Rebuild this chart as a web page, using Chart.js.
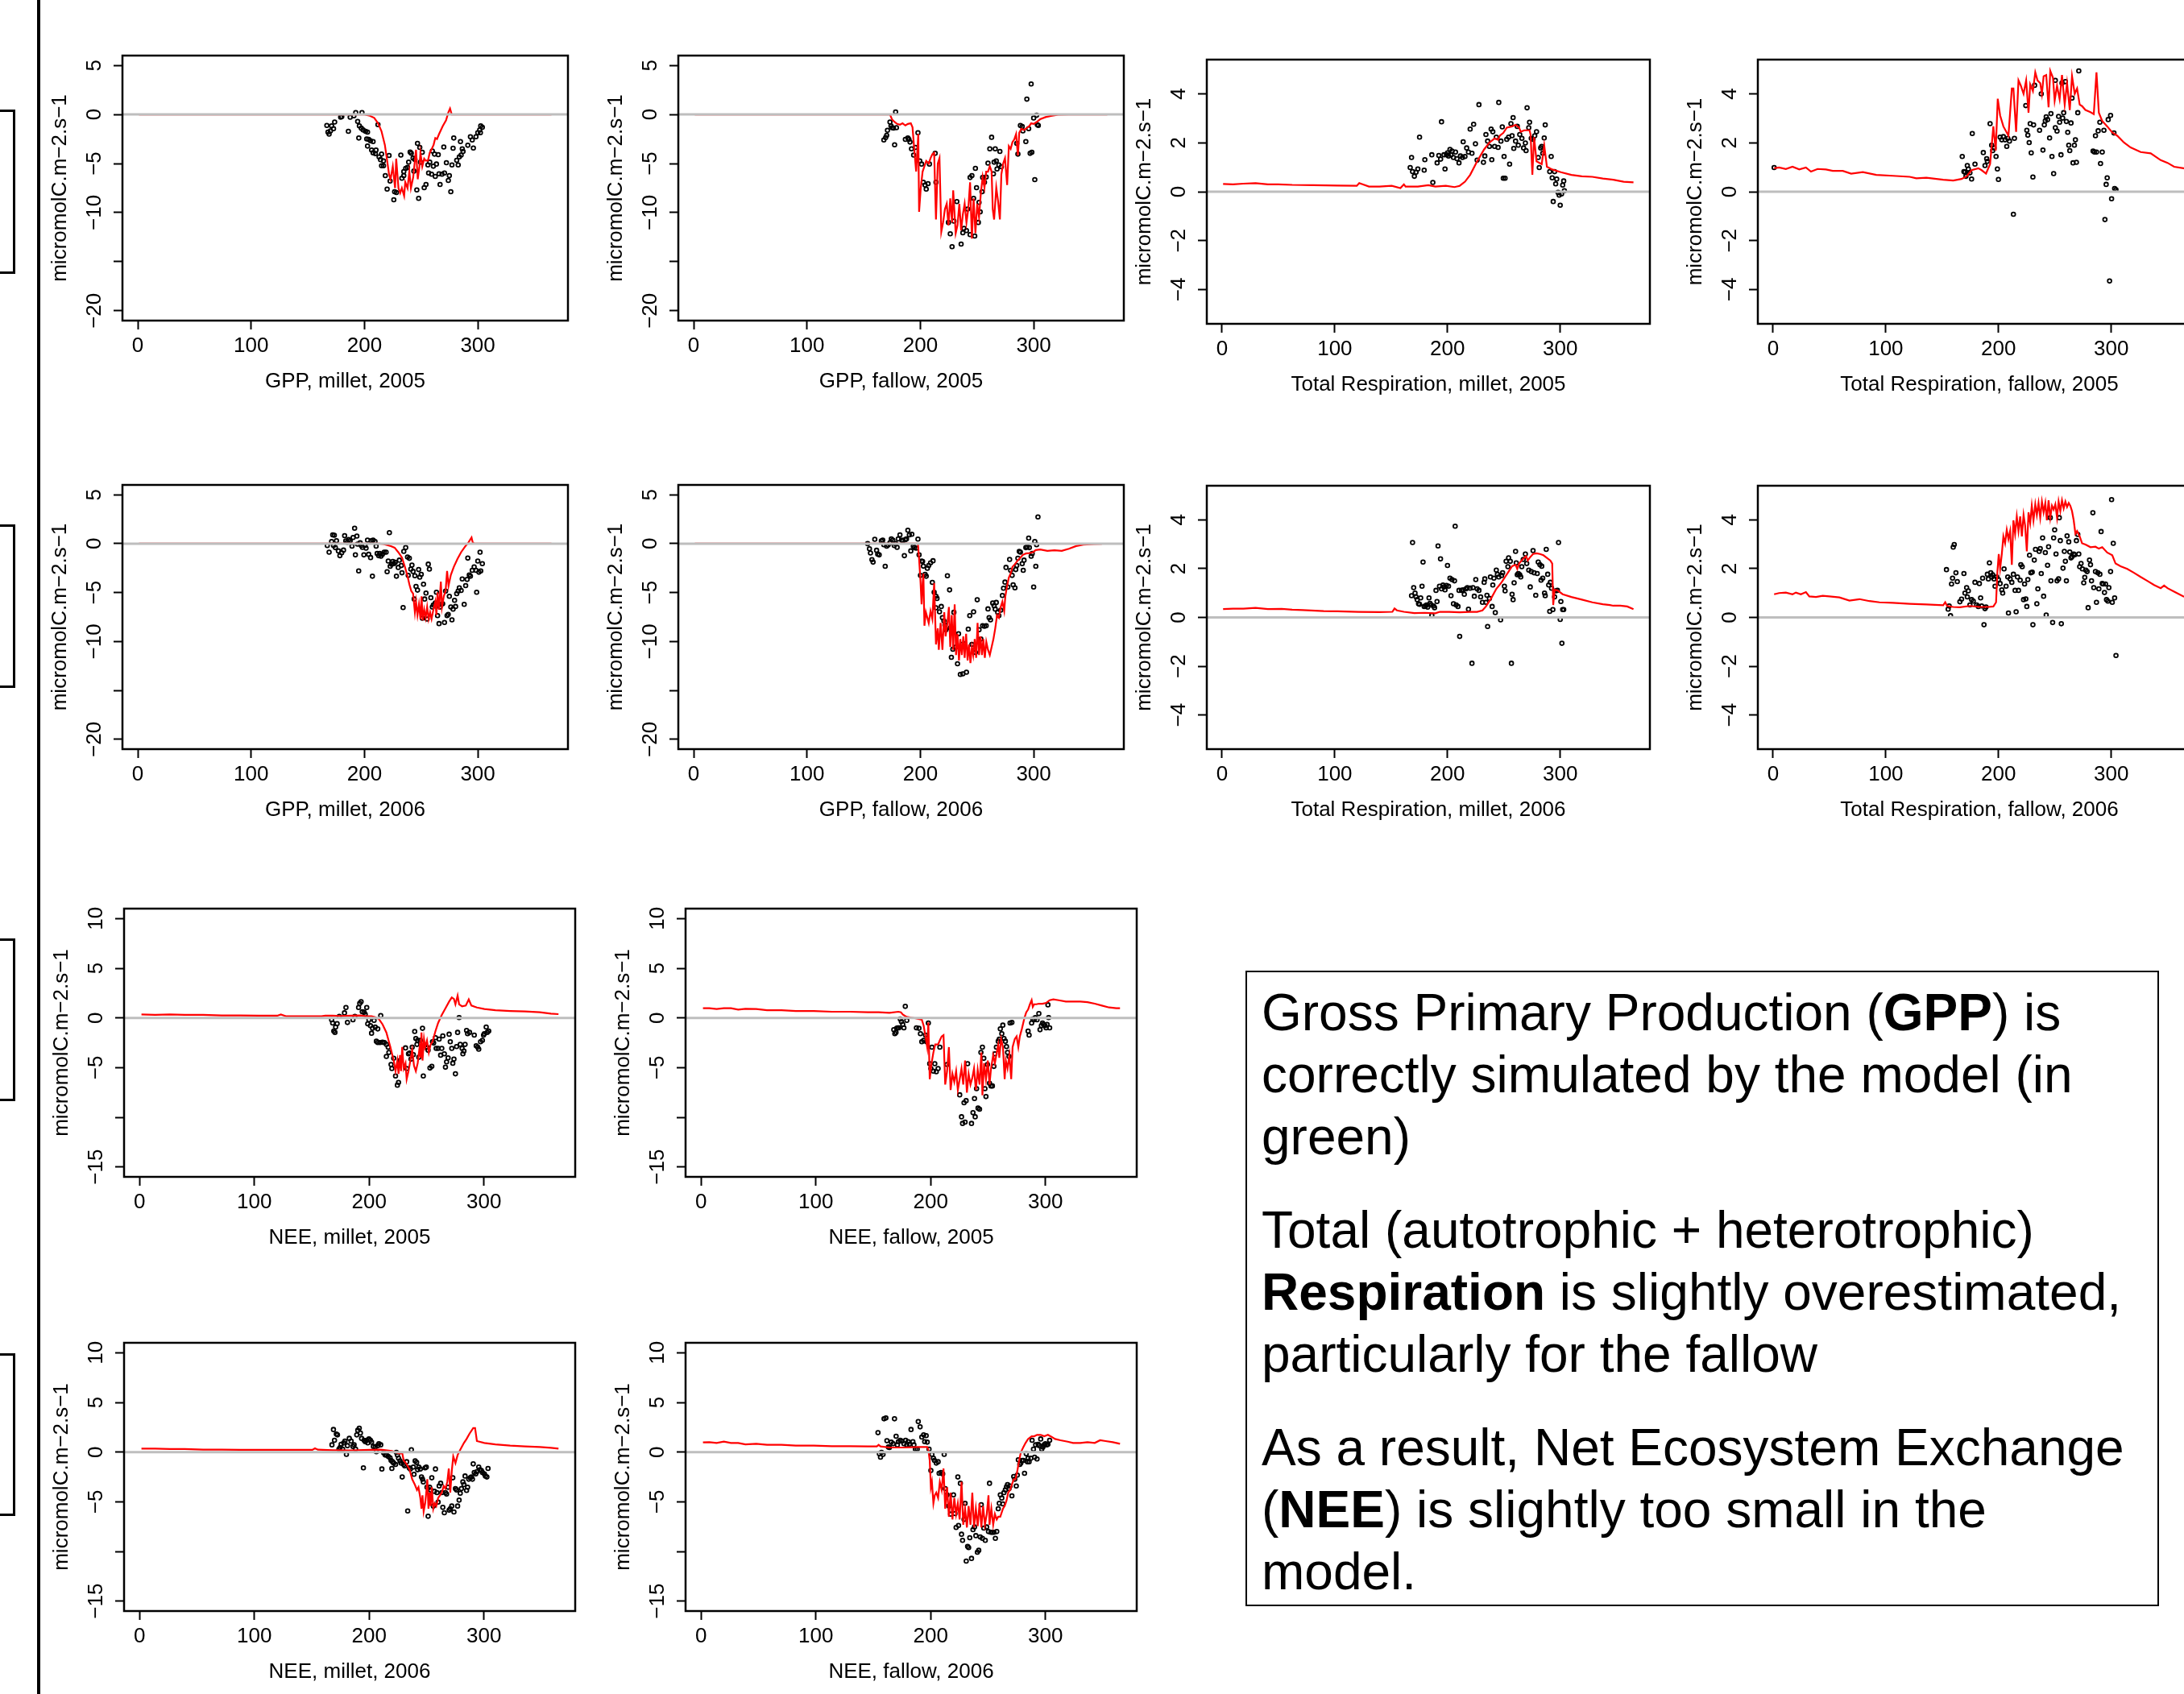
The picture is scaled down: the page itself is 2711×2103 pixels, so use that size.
<!DOCTYPE html>
<html>
<head>
<meta charset="utf-8">
<script src="https://cdn.jsdelivr.net/npm/chart.js@4.4.1/dist/chart.umd.min.js"></script>
<style>
  html, body { margin: 0; padding: 0; background: #fff; }
  body { position: relative; width: 2711px; height: 2103px; overflow: hidden; }
  .rule { position: absolute; left: 46px; top: 0; width: 4px; height: 2103px; background: #000; }
  .stub { position: absolute; left: -20px; width: 39px; box-sizing: border-box; border: 3px solid #000; }
  #note {
    position: absolute; left: 1546px; top: 1205px; width: 1134px; height: 789px;
    box-sizing: border-box; border: 2px solid #000; padding: 12px 0 0 18px;
    font-family: "Liberation Sans", Arial, Helvetica, sans-serif; font-size: 64px; line-height: 77px;
    color: #000; white-space: nowrap;
  }
  #note p { margin: 0 0 39px 0; }
  canvas { position: absolute; }
</style>
</head>
<body>
<div class="rule"></div>
<div class="stub" style="top:136px;height:204px"></div>
<div class="stub" style="top:651px;height:203px"></div>
<div class="stub" style="top:1165px;height:202px"></div>
<div class="stub" style="top:1680px;height:202px"></div>

<div id="note">
  <p>Gross Primary Production (<b>GPP</b>) is<br>correctly simulated by the model (in<br>green)</p>
  <p>Total (autotrophic + heterotrophic)<br><b>Respiration</b> is slightly overestimated,<br>particularly for the fallow</p>
  <p>As a result, Net Ecosystem Exchange<br>(<b>NEE</b>) is slightly too small in the<br>model.</p>
</div>

<script>
// Model (red line) vs observations (open circles), day of year on x.

const dayTicks = [0, 100, 200, 300];
const gppTicks = [-20, -15, -10, -5, 0, 5];
const respTicks = [-4, -2, 0, 2, 4];
const neeTicks = [-15, -10, -5, 0, 5, 10];
const yUnit = 'micromolC.m\u22122.s\u22121';

// ---- GPP 2005
const gppMillet05Model = [[1,0],[200,0],[204,-0.1],[208.6,-0.35],[212,-0.9],[215,-1.7],[218,-3.1],[220,-4.7],[221.7,-6.1],[223,-6.6],[225,-5.3],[227,-7.5],[228,-4.5],[230,-7.5],[231.5,-8],[233,-7.5],[235,-8.3],[236,-6.9],[238,-7.5],[239.6,-5.8],[241,-7.5],[243,-6.4],[244.5,-4.7],[245.5,-3.6],[247,-6.6],[248.5,-5.3],[249.4,-3.9],[251,-5.3],[252.7,-4.5],[254,-4.7],[256,-4.7],[257.6,-3.9],[259,-3.6],[261,-3.1],[262.5,-2.4],[264,-2.5],[265.8,-2],[269,-1.2],[272,-0.6],[274,0.2],[275.5,0.6],[277,0],[365,0]];
const gppMillet05Obs = [[166.8,-1.12],[167.8,-1.8],[168.8,-2],[170,-1.67],[171,-1.17],[172.7,-1.45],[173.7,-0.77],[179,-0.27],[180,-0.22],[185.8,-1.72],[187.4,-0.27],[190.7,-0.14],[192.3,0.19],[194,-0.71],[195.5,-1.17],[195,-2.4],[197.8,0.19],[197.2,-1.4],[198.8,-1.58],[201,-1.72],[202.7,-1.8],[202,-2.49],[203.7,-2.54],[202.7,-3.22],[205.3,-2.68],[207.6,-2.76],[206.3,-3.63],[207.6,-3.9],[210.2,-3.63],[209.6,-3.99],[211.9,-1.04],[212.9,-4.32],[214.2,-4.6],[215.1,-4.04],[216.8,-4.73],[215.1,-5.22],[216.8,-5.22],[218.4,-6.23],[221.7,-4.18],[220,-7.6],[222.6,-6.78],[225.9,-8.69],[226.6,-7.87],[228.2,-7.95],[232.1,-4.13],[233,-6.5],[234.7,-5.82],[236.4,-5.49],[234.7,-6.23],[238,-5.4],[239,-4.86],[240.3,-3.83],[241.3,-3.96],[242.9,-4.45],[244.5,-4.59],[243.6,-5.77],[246.2,-7.68],[247.8,-8.55],[246.8,-2.95],[248.8,-3.36],[249.4,-4.86],[251,-3.85],[252.7,-7.46],[254.3,-7.13],[256,-5.14],[256.6,-5.96],[257.6,-4.86],[259.2,-6.09],[260.8,-5.27],[259.9,-3.72],[261.8,-4.04],[263.5,-5.05],[262.5,-6.31],[265.1,-4.1],[265.8,-6.04],[266.7,-7.13],[268.4,-6.09],[270,-3.31],[270.6,-5.96],[272.3,-4.92],[274,-6.72],[274.9,-6.23],[276.2,-7.87],[277.2,-5.14],[278.2,-3.44],[278.8,-2.4],[281.4,-4.67],[282.7,-5.14],[283.7,-4.32],[284.7,-2.76],[285.3,-4.13],[287,-3.77],[286.3,-3.5],[291.2,-3.14],[293.5,-2.27],[295.1,-2.6],[296.1,-3.42],[298.4,-2.27],[300,-1.86],[301.7,-1.58],[302.6,-1.17],[304,-1.31],[302.3,-1.86]];

const gppFallow05Model = [[1,0],[173.2,0],[175,-0.5],[177.3,-0.77],[179.5,-0.96],[182,-1.04],[184.3,-0.9],[186.8,-1.12],[189,-0.96],[191.6,-0.9],[193.1,-1.31],[194.7,-3.63],[196.3,-5.82],[198.2,-1.99],[198.9,-9.92],[200.4,-7.46],[202,-5.82],[203.6,-5.27],[205.2,-4.73],[207.4,-5],[209,-4.45],[210.6,-4.04],[212.2,-3.9],[213.8,-10.7],[215.4,-5],[216.9,-4.45],[218.5,-11.96],[220.1,-11],[221.7,-9.64],[223.3,-9.1],[224.8,-11.28],[226.4,-8.55],[228,-11],[229,-7.73],[231.2,-12.1],[232.8,-11.28],[234.4,-9.1],[236,-11.8],[237.5,-10.2],[239.1,-9.1],[240.7,-11],[242.3,-9.64],[243.9,-6.91],[245.5,-12.65],[247,-8.55],[248.6,-12.1],[250.2,-9.1],[251.8,-10.46],[253.4,-8],[255,-6.37],[256.6,-7.46],[258.1,-5.82],[259.7,-5.82],[261.3,-5.27],[262.9,-5.82],[263.9,-9.64],[265.1,-10.7],[267,-7.46],[268.6,-8.83],[270.2,-10.7],[271.5,-6.09],[273.1,-5],[274.7,-4.45],[276.6,-7.19],[278.1,-3.22],[279.7,-3.5],[281.3,-2.81],[282.9,-2.54],[284.5,-1.99],[286.1,-4.18],[287.3,-1.86],[289.2,-1.45],[291.5,-1.58],[293.7,-1.39],[296.2,-1.17],[297.8,-0.9],[300,-0.96],[302.6,-0.77],[305.7,-0.49],[310.5,-0.27],[315.3,-0.14],[321.6,-0.03],[331,0],[365,0]];
const gppFallow05Obs = [[167.8,-2.6],[169.4,-2.35],[170.3,-2.13],[171,-1.61],[173.2,-0.77],[174.1,-1.17],[175,-1.34],[176.3,-1.39],[177.3,-3.09],[178.2,0.25],[178.9,-1.34],[186.8,-2.54],[189,-2.4],[189.9,-2.54],[190.9,-2.81],[192.2,-3.5],[194.1,-4.13],[195.7,-3.36],[197.9,-1.86],[199.5,-4.73],[201.1,-5.05],[202.6,-6.91],[204.2,-7.19],[205.2,-7.6],[206.8,-7.05],[208,-5.05],[213.1,-3.96],[213.8,-6.91],[224.8,-11],[226.4,-12.16],[228,-13.47],[229.6,-10.87],[232.2,-8.88],[236,-13.2],[237.5,-12.05],[238.5,-11.6],[240.7,-11.83],[241.7,-9.64],[243.9,-12.24],[247,-8.55],[248,-12.38],[243.9,-6.42],[245.5,-6.23],[248.6,-5.49],[249.6,-7.46],[251.2,-11],[251.8,-8.96],[252.8,-9.92],[254.4,-7.87],[255,-6.42],[256.6,-6.91],[258.1,-6.37],[259.7,-4.95],[261.3,-3.5],[262.9,-2.32],[264.5,-6.04],[265.1,-4.86],[266.1,-3.5],[267,-4.73],[267.7,-5.55],[269.3,-5.14],[270.2,-3.77],[271.5,-5.33],[285.1,-2.95],[286.1,-4.04],[288.3,-1.12],[289.9,-1.23],[290.5,-1.67],[293.1,-2.76],[294,1.56],[295.6,-1.45],[296.9,-3.96],[298.4,-3.85],[297.8,3.11],[300,-0.36],[301,-6.64],[302.6,-0.08],[303.2,-1.04],[304.1,-1.12]];

// ---- Respiration 2005
const respMillet05Model = [[0.9,0.32],[9.6,0.3],[18.9,0.33],[29.7,0.35],[40.6,0.3],[49.8,0.3],[62.2,0.28],[80.8,0.27],[102.5,0.25],[119.5,0.24],[121.7,0.35],[124.1,0.31],[130.3,0.21],[139.6,0.21],[150.5,0.24],[158.2,0.15],[161.3,0.3],[162.8,0.21],[173.7,0.21],[183,0.27],[189.2,0.21],[198.5,0.24],[206.2,0.19],[210.8,0.24],[215.5,0.41],[220.1,0.69],[226.3,1.24],[232.5,1.73],[237.2,2.01],[241.8,2.18],[244.9,2.12],[246.4,2.29],[249.5,2.4],[252.6,2.62],[257.3,2.67],[260.4,2.73],[263.5,2.62],[265,2.45],[268.1,2.51],[272.8,2.51],[273.7,2.34],[275.3,0.69],[276.8,2.23],[279,1.24],[283.6,1.13],[285.8,1.9],[288.2,1.02],[292.9,0.91],[300.6,0.8],[309.9,0.69],[319.2,0.63],[328.5,0.61],[337.8,0.54],[347.1,0.49],[356.3,0.41],[365,0.38]];
const respMillet05Obs = [[166.9,0.99],[168.1,1.4],[169,0.82],[170.6,0.63],[172.1,0.8],[173.7,0.93],[175.2,2.23],[179.3,0.88],[179.9,1.31],[186.1,1.51],[187,0.38],[190.8,1.18],[192.3,1.48],[193.9,1.33],[194.7,2.86],[196.9,1.51],[197.8,0.93],[199.1,1.51],[200,1.59],[200.9,1.46],[202.2,1.73],[203.1,1.51],[204,1.66],[205.3,1.4],[207.1,1.62],[208.4,1.35],[210.2,1.18],[211.5,1.46],[213.3,1.4],[213.9,2.04],[215.5,1.44],[217,1.79],[218.6,1.62],[220.1,2.56],[221.7,1.57],[223.2,2.76],[224.8,1.96],[226.3,1.29],[227.9,3.56],[231.9,1.2],[233.1,1.46],[234.1,2.34],[235.6,2.07],[237.2,1.85],[238.7,2.56],[239.3,1.31],[240.2,2.45],[241.8,1.85],[243.3,2.23],[244.9,1.81],[245.5,3.65],[247.4,2.07],[248.6,2.65],[249.5,0.55],[251.1,0.55],[250.2,1.44],[252.6,2.14],[254.2,2.23],[255.1,1.13],[256.3,2.78],[257.3,2.29],[258.2,3.03],[258.8,1.77],[260.4,2.07],[261.9,2.67],[262.8,1.9],[264.1,2.34],[266,2.18],[267.5,1.79],[269.1,1.99],[269.7,1.68],[270.6,3.43],[272.1,2.62],[272.8,2.84],[274.3,2.18],[275.9,2.14],[277.4,2.29],[279,2.45],[280.5,1.4],[281.4,0.99],[282.7,1.79],[283.6,1.85],[284.5,1.57],[285.8,2.2],[286.7,2.73],[290.7,0.82],[292,1.44],[292.9,0.57],[293.8,-0.4],[295,0.82],[296,0.32],[296.9,0.52],[298.1,-0.03],[299.1,-0.14],[300,-0.55],[301.2,-0.09],[302.2,0.27],[303.1,0.44],[303.7,0.04]];

const respFallow05Model = [[0.9,0.96],[5.3,0.99],[11.3,0.93],[17.2,1.02],[23.2,0.91],[29.1,0.99],[33.6,0.82],[39.5,0.93],[46.9,0.91],[52.9,0.85],[61.8,0.85],[69.2,0.74],[79.6,0.8],[91.5,0.69],[106.3,0.65],[121.2,0.61],[127.1,0.55],[136,0.57],[150.9,0.49],[159.8,0.46],[167.2,0.52],[171.7,0.63],[176.1,0.88],[182.1,0.96],[185,0.88],[188.9,0.74],[192.5,1.13],[195.4,2.67],[197.5,1.68],[199.3,3.8],[201.4,3.12],[204.3,2.67],[208.8,2.29],[211.8,4.22],[213.2,4.22],[215.6,2.45],[217.7,4.55],[219.8,4.33],[222.2,4],[224.5,4.55],[226.6,3.23],[228.1,4.39],[230.5,4.11],[232.6,4.88],[234.6,4.55],[237,4.44],[238.5,4],[240,4.72],[242.3,4.77],[244.4,3.45],[245.9,4.94],[248.3,4.66],[249.8,3.72],[251.9,4.33],[254.2,3.78],[256.3,4.77],[258.7,3.56],[260.8,4.44],[263.2,3.34],[265.2,4.72],[267.6,4],[269.7,4.22],[272,3.56],[274.1,3.5],[277.1,3.34],[281.6,3.25],[284.5,3.17],[286.9,4.88],[289,3.23],[291.9,2.9],[296.4,2.67],[300.9,2.42],[305.3,2.29],[311.3,2.01],[317.2,1.81],[326.1,1.62],[335,1.57],[343.9,1.29],[349.9,1.18],[355.8,1.02],[364.1,0.96],[365,0.95]];
const respFallow05Obs = [[0.9,0.99],[167.8,1.44],[169.3,0.82],[170.2,0.8],[171.1,0.63],[172.3,1.07],[173.2,0.93],[174.6,0.77],[176.1,0.52],[176.7,2.38],[179.1,1.13],[186.5,1.6],[188,1.07],[189.5,1.35],[190.1,1.24],[192.5,2.78],[193.9,1.9],[194.8,1.68],[196,1.79],[197.8,1.44],[199,0.93],[199.9,0.5],[201.4,2.23],[202.9,2.12],[204.3,2.25],[205.8,2.12],[207.3,1.85],[208.2,2.18],[209.7,2.07],[213.2,-0.92],[214.1,2.18],[224.2,3.52],[225.1,2.51],[226,2.31],[227.2,2.01],[228.1,2.78],[229,1.59],[230.5,0.6],[231.1,2.73],[232,4.35],[236.4,2.51],[237.9,4],[239.4,1.7],[240.6,2.73],[241.5,2.9],[242.3,3.06],[243.5,2.95],[245.3,2.2],[246.5,3.19],[247.4,1.44],[248.9,0.74],[250.4,4.55],[250.4,2.62],[251.9,2.48],[253.3,3.08],[254.2,2.84],[255.4,1.51],[256.9,3.01],[257.8,3.23],[256.3,4.44],[259.3,4.5],[260.2,2.87],[261.4,2.43],[262.3,1.9],[263.2,1.68],[264.3,2.81],[265.2,3.83],[266.1,1.18],[267.3,1.9],[268.2,2.12],[269.1,1.2],[270.3,3.23],[271.2,4.94],[283.9,1.66],[285.1,1.62],[286.9,1.62],[286,2.29],[288.4,2.49],[289.9,2.84],[290.5,1.15],[292,1.62],[293.5,2.51],[294.4,-1.14],[295.5,0.3],[296.4,0.57],[297.3,2.95],[298.5,-3.65],[299.4,3.12],[300.3,-0.29],[302.4,2.4],[303,0.13],[304.2,0.08]];

// ---- GPP 2006
const gppMillet06Model = [[1,0],[213.5,0],[216.8,-0.05],[220,-0.14],[223.3,-0.25],[226.6,-0.41],[229.8,-0.87],[233.1,-1.42],[235.7,-2.38],[238,-3.33],[239.6,-4.15],[241.3,-4.84],[242.9,-5.11],[244.5,-7.02],[245.5,-5.93],[246.8,-7.3],[248.1,-6.2],[249.4,-7.7],[250.4,-5.38],[251.4,-7.84],[252.7,-6.75],[254,-7.57],[255.3,-6.48],[256.6,-7.7],[257.9,-7.02],[259.2,-7.7],[260.8,-6.75],[262.5,-5.93],[263.5,-7.3],[264.5,-4.97],[265.8,-6.75],[267.4,-3.88],[268.4,-6.48],[270,-5.38],[271.6,-4.84],[272.9,-2.79],[274.2,-4.29],[276.2,-3.2],[278.8,-2.38],[282.1,-1.56],[285.3,-0.87],[288.6,-0.33],[291.9,0.14],[294.5,0.63],[295.5,0.14],[296.8,0],[365,0]];
const gppMillet06Obs = [[167.2,-0.19],[168.8,-0.87],[171,0.22],[172,0.9],[173.4,0.85],[172.7,-0.19],[174.3,-0.41],[175.3,0.3],[177,-0.74],[178.3,-1.23],[179.9,-0.93],[181.5,-0.66],[182.5,0.82],[183.5,0.27],[184.8,0.14],[186.1,0.41],[187.4,0.3],[189,-0.25],[190,0.63],[191.3,1.58],[192,-1.15],[193.3,0.77],[193.9,-0.05],[194.9,-2.79],[196.2,0.08],[197.2,-0.19],[198.2,-0.38],[199.5,-1.15],[200.5,-0.19],[201.4,-0.46],[202.7,0.36],[203.7,-1.09],[205.4,-1.42],[206,0.3],[207,-3.33],[207.6,0.36],[209.3,0.22],[210.3,-0.25],[211.2,-1.01],[212.5,-1.23],[213.5,-1.01],[214.5,-1.28],[215.8,-1.09],[217.4,-0.87],[219.1,-0.87],[220,-2.87],[221,-1.78],[222,1.12],[222.7,-2.32],[224,-2.1],[225,-1.83],[225.9,-2.05],[227.2,-1.91],[228.2,-3.33],[229.8,-2.43],[230.8,-1.69],[232.5,-2.24],[233.1,-2.98],[234.1,-6.53],[234.7,-0.79],[236.4,-0.41],[238,-1.37],[238.6,-3.25],[239.6,-1.5],[240.9,-2.6],[241.9,-2.19],[242.9,-2.84],[243.9,-5.66],[244.5,-3.28],[245.5,-4.37],[246.8,-4.75],[247.8,-2.65],[248.8,-3.42],[250.1,-3.14],[251.1,-7.62],[252.1,-4.15],[253.1,-5.66],[254.3,-5.05],[255.3,-7.7],[256.3,-2.1],[257.3,-2.6],[258.6,-5.52],[259.9,-6.48],[260.8,-6.26],[262.5,-6.07],[263.5,-4.97],[264.5,-7.35],[265.8,-8.17],[266.7,-6.48],[267.7,-6.2],[269,-6.15],[270.6,-8.06],[271.6,-4.84],[272.9,-7.35],[273.9,-7.24],[274.9,-5.38],[276.2,-6.48],[277.2,-7.79],[278.2,-6.69],[279.5,-5.79],[280.4,-6.42],[281.4,-5.11],[282.7,-4.84],[283.7,-4.51],[285.3,-4.78],[286.3,-3.61],[288,-6.2],[289.3,-4.29],[290.6,-3.66],[291.2,-1.48],[292.5,-3.2],[293.5,-3.33],[295.1,-2.73],[296.8,-2.38],[298.4,-2.73],[299,-4.97],[300,-1.78],[301,-2.92],[302,-0.87],[302.6,-2.79],[304,-2.05]];

const gppFallow06Model = [[1,0],[197,0],[197.9,-0.05],[198.9,-1.56],[200.1,-3.74],[201.1,-6.2],[202,-4.02],[202.7,-3.06],[203.6,-8.39],[204.9,-7.02],[206.2,-7.57],[207.4,-8.11],[209,-6.89],[210.6,-7.7],[212.2,-4.02],[213.8,-10.3],[215.4,-8.66],[216.3,-10.85],[217.9,-8.11],[219.5,-10.85],[221.1,-7.02],[222.3,-9.48],[223.9,-8.11],[225.2,-6.48],[226.4,-10.57],[227.7,-7.3],[229,-10.85],[230.3,-6.2],[231.5,-11.39],[232.8,-9.21],[234.1,-11.94],[235.3,-9.75],[236.6,-11.39],[237.9,-9.48],[239.1,-11.67],[240.4,-9.21],[241.7,-11.94],[242.9,-10.3],[244.2,-12.21],[245.5,-10.57],[246.7,-11.39],[248,-9.75],[249.3,-11.67],[250.5,-8.11],[251.8,-11.39],[253.1,-9.48],[254.4,-11.39],[255.6,-9.75],[256.9,-11.67],[258.2,-10.03],[259.7,-10.85],[261.3,-11.39],[262.9,-10.57],[264.5,-9.75],[266.1,-8.66],[267.7,-7.3],[269.3,-7.57],[270.9,-6.48],[272.4,-5.93],[274,-6.89],[275,-5.38],[276.6,-4.29],[278.1,-3.47],[279.7,-3.06],[281.3,-2.38],[283.5,-2.1],[286.1,-1.69],[288.3,-1.42],[290.5,-1.15],[293.1,-1.01],[296.2,-0.96],[299.4,-0.87],[301.9,-0.66],[305.7,-0.6],[312.1,-0.74],[318.4,-0.68],[324.8,-0.74],[331.1,-0.52],[337.5,-0.25],[343.8,-0.11],[353.3,-0.05],[360.3,-0.03]];
const gppFallow06Obs = [[153.5,0],[155.1,-0.52],[156,-0.96],[157.3,-1.64],[158.3,-1.89],[159.8,0.44],[161.4,-0.68],[162.4,-1.07],[163.7,-1.15],[165.6,0.27],[166.8,0.36],[167.8,-0.11],[169,-2.32],[170.3,-0.25],[171.6,-0.14],[173.2,0.08],[174.4,0.49],[175.7,0.36],[177,-0.19],[178.2,0],[179.5,-0.38],[180.5,0.49],[182,0.9],[183.6,0.36],[184.6,0.27],[185.9,-1.23],[186.8,0.41],[187.8,0.49],[189,1.37],[190.3,0.9],[191.6,-0.74],[192.5,0.96],[193.8,-0.25],[194.7,-0.41],[196.3,-0.46],[197.9,0.46],[198.9,-1.15],[200.1,-3.25],[201.1,-1.78],[202,-1.83],[202.7,-2.3],[204.2,-3.14],[205.2,-3.33],[206.2,-2.51],[207.4,-2.24],[209,-1.97],[210.6,-3.96],[211.2,-1.75],[212.2,-4.97],[213.8,-5.38],[214.7,-5.6],[213.8,-6.56],[216.9,-6.97],[218.5,-6.42],[219.5,-7.57],[220.8,-7.9],[221.7,-8.33],[222.6,-8.8],[223.9,-3.28],[225.8,-4.73],[226.4,-8.61],[227.4,-11.61],[228.7,-10.79],[229.6,-7.02],[231.2,-10.57],[232.8,-12.27],[233.7,-9.21],[235.3,-13.36],[236.6,-10.3],[237.5,-13.3],[239.1,-10.25],[240.7,-13.14],[242.3,-8.74],[243.6,-7.35],[245.5,-10.3],[247,-6.97],[248.6,-11.12],[250.2,-5.74],[251.8,-8.8],[253.4,-9.75],[255,-8.39],[256.6,-8.44],[258.1,-8.39],[259.7,-6.67],[260.7,-7.57],[261.9,-7.79],[263.9,-6.07],[265.1,-6.34],[266.1,-6.69],[267,-6.01],[268.3,-7.02],[269.3,-7.35],[270.9,-6.8],[272.4,-5.3],[273.4,-4.56],[274.7,-3.93],[275.6,-2.43],[277.2,-4.43],[278.8,-1.61],[279.7,-2.73],[281,-3.25],[281.9,-4.21],[283.5,-4.51],[284.2,-2.65],[285.1,-2.24],[286.1,-1.5],[287.3,-0.79],[288.3,-0.87],[289.9,-2.05],[290.8,-2.73],[291.5,-1.69],[293.1,-0.41],[294.3,-0.33],[295.6,0.57],[296.2,-0.41],[297.8,-1.28],[298.7,-1.01],[300,-4.43],[301,0.22],[301.9,-2.32],[302.6,-0.11],[303.8,2.73]];

// ---- Respiration 2006
const respMillet06Model = [[0.9,0.34],[9.6,0.36],[18.9,0.36],[29.7,0.39],[40.6,0.34],[52.9,0.35],[62.2,0.32],[71.5,0.3],[90.1,0.26],[102.5,0.25],[121,0.23],[139.6,0.22],[151.1,0.23],[153,0.37],[155.1,0.29],[161.3,0.23],[170.6,0.18],[179.9,0.19],[189.2,0.17],[193.2,0.23],[201.5,0.23],[210.8,0.21],[220.1,0.23],[226.3,0.23],[231,0.29],[234.1,0.45],[238.7,0.78],[243.3,1.17],[248,1.44],[249.5,1.55],[251.1,1.66],[254.2,1.88],[257.3,2.1],[260.4,2.16],[261.9,1.99],[263.5,2.21],[266.6,2.38],[269.7,2.51],[271.2,2.33],[272.8,2.44],[275.9,2.6],[279,2.63],[282,2.6],[285.1,2.55],[288.2,2.44],[291.3,2.33],[292.9,2.21],[293.8,0.51],[295,1.13],[297.5,1.11],[302.2,0.95],[309.9,0.84],[319.2,0.73],[328.5,0.62],[337.8,0.54],[344,0.51],[347.1,0.48],[353.3,0.48],[359.5,0.45],[365,0.34]];
const respMillet06Obs = [[168.1,0.89],[169,3.07],[170,1.22],[171.2,1],[172.1,0.84],[173.1,0.73],[174.3,0.56],[175.2,0.54],[176.2,0.8],[177.4,1.28],[178.3,2.27],[179.3,0.45],[180.5,0.47],[181.4,0.51],[182.4,0.42],[183.6,0.8],[184.5,0.58],[185.4,0.51],[186.1,0.09],[187.6,0.47],[188.5,0.4],[189.8,1.11],[190.7,0.65],[191.6,2.93],[192.9,1.28],[193.8,2.4],[194.7,1.17],[196,1.33],[196.9,1.25],[197.8,1.13],[199.1,1.31],[200,2.13],[200.9,1.28],[202.2,1.61],[203.1,0.89],[204,1.55],[205.3,0.56],[206.2,1.5],[206.8,3.74],[207.7,0.51],[209.3,0.45],[210.2,1.11],[210.8,-0.78],[212.4,1.11],[213.9,1.13],[214.9,0.95],[216.4,1.17],[217.6,1.22],[218.6,0.34],[220.1,1.2],[221.7,-1.88],[222.6,1.22],[223.8,0.87],[225.1,1.55],[226.3,1.17],[227.9,1.11],[229.4,0.84],[231,0.62],[232.5,1.44],[233.1,1.58],[234.1,0.62],[235,0.91],[235.6,-0.37],[237.2,0.78],[238.1,1.66],[239.6,0.45],[240.2,1.33],[241.2,1.61],[242.4,0.2],[243.3,1.94],[244.3,1.77],[245.5,1.66],[247.1,-0.1],[248,1.72],[248.9,1.83],[250.5,1.28],[251.1,1.09],[252,2.3],[253.6,2.08],[254.2,2.44],[255.7,2.3],[256.7,-1.88],[257.3,0.95],[258.2,0.73],[259.1,1.42],[260.4,2.71],[261,2.24],[261.9,1.75],[262.8,1.8],[264.1,1.75],[265,1.66],[265.9,2.08],[267.2,2.38],[269.1,2.6],[270.3,2.21],[272.1,1.94],[273.4,1.25],[274.3,1.88],[275.9,2.74],[276.8,1.83],[278.3,0.91],[279.6,1.8],[280.5,2.27],[282,2.16],[283,1.53],[283.6,2.1],[284.5,1.61],[286.1,1],[286.7,0.89],[287.6,2.79],[288.9,1.77],[289.8,1.33],[290.7,0.25],[291.3,1.44],[292.3,1.2],[293.5,0.32],[295,0.84],[296,1.09],[297.5,1.11],[298.5,3.07],[300,-0.08],[300.6,0.65],[301.5,-1.06],[302.2,0.32],[303.1,0.32]];

const respFallow06Model = [[0.9,0.95],[5.3,1],[11.3,1.02],[17.2,0.95],[20.2,1.02],[24.6,0.95],[29.1,1.04],[32.1,0.86],[38,0.84],[44,0.89],[49.9,0.86],[58.8,0.82],[67.7,0.69],[76.6,0.75],[85.5,0.67],[94.4,0.62],[106.3,0.6],[121.2,0.56],[136,0.53],[150.9,0.5],[152.7,0.62],[154.4,0.47],[159.8,0.43],[165.7,0.42],[174.6,0.47],[183.5,0.43],[191,0.43],[195.4,0.45],[197.8,0.62],[199,1.88],[200.2,2.6],[201.4,2],[202.9,2.6],[204.3,3.32],[205.8,3.04],[207.3,3.59],[208.8,3.21],[210.3,3.54],[211.8,2.16],[213.2,3.98],[214.7,3.43],[216.2,4.14],[217.7,3.54],[219.2,4.14],[220.7,3.32],[222.2,4.2],[223.6,3.76],[225.1,2.71],[226.6,4.31],[228.1,3.87],[229.5,4.58],[231,3.98],[232.6,4.64],[234,4.2],[235.5,4.69],[237,4.09],[238.5,4.75],[240,4.31],[241.5,4.69],[242.9,3.98],[244.4,4.8],[245.9,4.09],[247.4,4.58],[248.9,4.42],[250.4,4.64],[251.9,4.09],[253.3,4.75],[254.8,4.36],[256.3,4.8],[257.8,4.47],[259.3,4.75],[260.8,4.53],[262.3,4.69],[263.7,4.58],[265.2,4.36],[266.7,3.98],[268.2,3.43],[269.7,3.54],[272,3.32],[274.1,3.04],[277.1,2.99],[281.6,2.88],[286,2.9],[289,2.82],[292,2.88],[296.4,2.66],[300.9,2.55],[303.8,2.21],[308.3,2.1],[314.2,1.99],[320.2,1.83],[326.1,1.66],[332,1.5],[338,1.33],[343.9,1.2],[346.9,1.31],[349.9,1.2],[355.8,1.06],[364.1,0.86],[365,0.85]];
const respFallow06Obs = [[153.8,1.96],[155.3,0.34],[156.2,0.47],[157.4,0.07],[158.3,1.37],[159.2,1.61],[159.8,2.88],[160.7,2.99],[162.2,1.83],[163.4,1.47],[165.7,0.64],[167.2,0.75],[169.3,1.8],[170.2,1],[171.7,1.22],[172.3,0.84],[173.2,1.09],[174.6,0.51],[176.1,0.73],[177.6,0.67],[179.1,1.44],[180.6,0.51],[182.1,0.45],[183,1.39],[184.1,0.8],[185,0.47],[185.9,1.61],[187.1,-0.3],[188,0.36],[188.9,0.43],[190.1,1.77],[191,1.58],[191.9,2.24],[193.1,1.83],[194,1.66],[194.8,1.75],[196,1.58],[196.9,1.28],[198.4,1.66],[199.9,1.55],[201.4,1.39],[202.9,1.13],[203.7,1],[204.9,1.99],[206.7,1.28],[208.2,1.66],[208.8,0.18],[210.3,1.58],[211.8,1.44],[213.2,1.77],[214.7,1.11],[215.6,0.23],[216.8,1.66],[217.7,1.11],[219.2,1.53],[219.8,2.16],[221,2.08],[222.2,0.73],[223.1,1.37],[224.2,0.76],[225.1,0.45],[226,1.55],[227.5,2.55],[228.7,1.83],[229.9,1.86],[230.5,-0.3],[231.7,2.35],[232.8,2.79],[234,0.56],[234.9,1.17],[236.1,2.71],[237,2.82],[237.9,1.8],[239.1,3.26],[240,0.87],[241.5,2.66],[242.3,0.1],[243.5,2.14],[244.4,2.9],[245.9,4.09],[246.5,1.5],[248,-0.21],[248.9,3.26],[249.8,3.59],[251,2.6],[251.9,1.5],[253.3,1.58],[253.9,4.09],[254.8,3.15],[255.7,-0.26],[257.2,2.02],[258.4,2.71],[259.3,2.3],[260.2,1.5],[260.8,3.34],[262.3,3.1],[263.2,2.68],[264.3,2.44],[265.2,2.49],[266.7,2.6],[267.6,2.57],[269.1,3.15],[270.3,3.4],[271.2,2.6],[272,2.08],[273.2,2.21],[274.4,1.99],[275.6,1.42],[276.5,1.64],[277.4,1.94],[278.6,1.88],[279.5,0.4],[280.7,2.35],[281.6,2.16],[282.5,1.5],[283.7,4.29],[284.5,1.22],[286,1.88],[286.9,0.62],[288.1,1.83],[289,1.17],[289.9,1.77],[291,3.52],[292,1.39],[292.9,1.37],[294,1.02],[294.9,1.37],[295.8,0.73],[297,0.67],[297.9,1.22],[299.4,1.88],[300.3,4.83],[300.9,0.62],[301.8,3.04],[303,0.8],[304.2,-1.56]];

// ---- NEE 2005
const neeMillet05Model = [[1.6,0.35],[13.5,0.3],[26.4,0.35],[39.3,0.3],[55.4,0.3],[71.5,0.24],[87.7,0.24],[103.8,0.22],[119.9,0.22],[123.1,0.35],[127.9,0.16],[142.4,0.16],[158.6,0.16],[161.8,0.22],[168.2,0.22],[174.7,0.19],[184.3,0.22],[192.4,0.24],[197.2,0.16],[202.1,0.16],[205.3,0.08],[208.5,-0.11],[211.7,-0.65],[215,-1.46],[218.2,-2.8],[221.4,-4.29],[223,-5.36],[224.6,-4.29],[225.6,-5.63],[226.9,-3.75],[227.8,-5.36],[228.8,-2.94],[230.1,-5.09],[231.7,-4.56],[232.7,-6.17],[234.3,-5.36],[235.9,-4.29],[237.5,-3.21],[239.1,-4.82],[240.7,-5.36],[242.3,-4.56],[244,-2.94],[244.9,-4.02],[245.6,-1.46],[246.5,-4.29],[247.8,-2.13],[248.8,-2.94],[250.4,-2.26],[252,-3.48],[253.6,-2.67],[255.2,-2.4],[257.8,-1.32],[260.1,-0.51],[263.3,0.3],[266.5,0.97],[269.7,1.64],[272,2.05],[273.9,1.91],[275.2,1.37],[277.1,2.24],[278.4,1.37],[281,1.16],[284.2,1.24],[286.8,1.86],[289.1,1.24],[293.9,1.05],[300.4,0.89],[310,0.78],[322.9,0.7],[335.8,0.65],[348.7,0.57],[358.4,0.43],[365,0.38]];
const neeMillet05Obs = [[167.3,-0.19],[168.2,-0.51],[169.2,-1.32],[170.2,-1.46],[170.8,-0.92],[172.1,-0.57],[174,0.16],[178.5,0.51],[179.8,1.05],[181.1,-0.46],[185.9,-0.19],[187.6,0.16],[190.8,1.05],[191.8,1.46],[193,1.64],[194,0.62],[195.6,0.57],[196.6,0.35],[197.9,1.05],[198.8,-0.59],[199.8,-0.19],[201.1,-0.78],[202.1,-1.54],[203,-1.05],[204.3,-0.24],[205.3,-0.92],[207.5,-1.11],[210.1,0.24],[206.3,-2.35],[207.5,-2.48],[209.5,-2.48],[211.7,-2.45],[213.3,-2.48],[215,-2.67],[216.6,-2.94],[217.2,-3.48],[215,-3.88],[219.1,-4.69],[219.8,-5.09],[221.4,-4.07],[223,-5.85],[224.6,-6.77],[225.6,-6.5],[226.9,-4.29],[231.7,-3.02],[232.7,-5.09],[234.3,-3.61],[235.3,-3.53],[236.5,-4.15],[237.5,-2.94],[238.5,-3.69],[239.7,-1.37],[240.7,-2.08],[241.7,-2.67],[242.3,-2.26],[243.3,-3.96],[244.6,-2.26],[245.6,-3.15],[246.5,-1.05],[247.2,-5.85],[248.8,-2.72],[250.4,-2.94],[251.4,-3.26],[253,-5.04],[254.6,-4.88],[255.2,-2.4],[256.2,-2.53],[257.8,-1.99],[258.4,-3.07],[260.1,-3.07],[261,-2.13],[262.3,-3.75],[263.3,-3.07],[264.2,-1.81],[265.5,-3.61],[266.5,-4.96],[267.5,-4.42],[268.8,-4.02],[269.7,-1.64],[270.7,-2.4],[272,-3.07],[272.9,-4.56],[273.9,-4.15],[275.2,-5.63],[276.2,-2.88],[277.1,-1.46],[278.4,0.03],[279.4,-2.67],[281,-3.07],[281.7,-3.61],[282.6,-3.34],[283.6,-2.67],[284.9,-1.27],[285.8,-1.59],[287.5,-1.46],[291.6,-1.73],[293.3,-2.8],[294.6,-2.94],[295.5,-3.15],[297.1,-2.4],[298.7,-2.26],[299.7,-1.73],[300.4,-1.59],[302,-0.92],[302.9,-1.46],[304.2,-1.32]];

const neeFallow05Model = [[1.6,0.97],[7.2,0.97],[13.5,0.89],[19.8,0.97],[26,0.97],[32.3,0.84],[38.6,0.92],[48,0.89],[57.4,0.78],[70,0.78],[82.5,0.7],[98.2,0.7],[113.9,0.62],[129.6,0.62],[145.3,0.57],[154.7,0.57],[164.1,0.51],[171.9,0.62],[174.1,0.57],[175.7,0.35],[178.2,0.16],[180.4,0.08],[182.9,0.03],[186.1,-0.03],[189.2,-0.11],[192.3,-0.19],[193.9,-0.78],[195.5,-1.86],[197,-2.94],[198,-0.46],[199.2,-6.17],[200.8,-4.56],[202.4,-3.48],[204,-2.67],[206.5,-2.67],[208,-2.26],[209.6,-1.86],[211.2,-1.73],[212.7,-6.71],[214.3,-5.36],[215.9,-2.94],[217.4,-7.25],[219,-5.63],[220.6,-6.44],[222.2,-5.36],[223.7,-7.25],[225.3,-6.17],[226.9,-5.09],[228.4,-6.71],[230,-4.29],[231.6,-7.52],[233.1,-5.63],[234.7,-6.71],[236.3,-6.04],[237.8,-5.09],[239.4,-7.25],[241,-5.23],[242.6,-6.71],[244.2,-3.48],[245.1,-7.79],[246.6,-4.56],[248.2,-6.17],[249.8,-4.29],[251.3,-6.71],[252.6,-5.09],[254.5,-3.75],[256,-4.56],[257.6,-3.48],[258.9,-2.67],[259.8,-4.02],[261.4,-2.13],[263,-2.94],[264.5,-6.17],[265.5,-4.29],[267,-5.09],[268.6,-3.75],[270.2,-6.17],[271.4,-2.94],[273.3,-2.13],[274.9,-1.86],[276.4,-2.94],[277.7,-1.86],[279.6,-1.05],[281.8,0.03],[283.3,0.57],[284.9,0.84],[286.5,1.37],[288,1.78],[289,1.11],[290.2,1.37],[292.1,1.37],[294.3,1.43],[297.5,1.43],[300.6,1.51],[303.7,1.78],[306.9,1.86],[311.6,1.78],[317.8,1.64],[324.1,1.64],[330.4,1.64],[336.7,1.59],[343,1.43],[349.2,1.24],[355.5,1.05],[361.8,0.97],[365,0.97]];
const neeFallow05Obs = [[167.9,-1.19],[168.8,-1.59],[169.8,-1.46],[170.4,-1.05],[171.3,-1],[172.3,-1],[173.5,-0.11],[174.5,-0.38],[175.7,-0.65],[176.7,-1],[177.9,1.16],[179.2,-0.24],[187.6,-1],[189.8,-1.05],[191.1,-1.59],[192.3,-2.4],[193.9,-2.26],[195.5,-1.73],[196.4,-2.4],[198,-0.51],[199.2,-4.61],[200.2,-5.09],[201.1,-2.94],[202.4,-5.36],[203.6,-4.61],[204.9,-5.42],[206.5,-5.09],[208,-2.94],[214.3,-4.69],[225.3,-7.74],[226.9,-9.95],[227.8,-10.62],[229.1,-8.54],[230,-10.49],[230.9,-8.33],[232.2,-4.61],[235.6,-10.62],[236.9,-9.54],[238.2,-8.11],[238.8,-9.95],[240,-7.12],[241.3,-9.08],[242.6,-9.19],[243.8,-3.48],[245.1,-2.94],[246.3,-4.07],[247.3,-7.12],[248.2,-7.92],[249.5,-4.69],[251.3,-6.58],[252.6,-6.85],[253.8,-6.85],[255.1,-4.88],[256,-3.61],[257.3,-2.94],[258.9,-2.35],[259.8,-2.13],[260.7,-1.11],[262,-1.59],[262.9,-0.73],[263.9,-2.08],[265.1,-2.35],[266.1,-2.88],[267,-3.48],[268.3,-3.88],[269.2,-0.51],[270.8,-0.46],[284.9,-1.32],[285.8,-1.73],[288,-0.51],[289,-0.11],[290.2,-0.19],[291.2,0.03],[292.7,-0.19],[294.3,0.43],[295.3,-1.19],[296.5,-0.78],[297.5,-0.51],[298.4,-0.65],[299.7,-0.78],[300.6,-1],[301.5,-0.65],[302.2,1.32],[302.8,0.03],[303.7,-1]];

// ---- NEE 2006
const neeMillet06Model = [[1.6,0.35],[13.5,0.35],[26.4,0.3],[39.3,0.3],[55.4,0.24],[71.5,0.24],[87.7,0.22],[103.8,0.22],[119.9,0.22],[136,0.22],[150.5,0.22],[152.8,0.38],[155.3,0.24],[168.2,0.19],[184.3,0.16],[200.5,0.22],[210.1,0.24],[219.8,0.11],[224.6,-0.08],[226.9,-0.16],[228.8,-0.08],[230.1,-0.84],[232.7,-1.24],[235.3,-1.78],[237.5,-2.73],[239.8,-3.27],[241.7,-3.81],[243,-3.54],[244.6,-4.62],[245.6,-5.7],[246.5,-4.35],[247.5,-5.97],[248.8,-5.16],[249.8,-4.08],[250.7,-2.73],[251.7,-5.7],[252.7,-4.08],[253.6,-5.43],[254.6,-3.54],[255.9,-5.7],[257.2,-5.16],[258.5,-5.43],[260.1,-4.62],[261.7,-4.35],[263.3,-4.08],[265,-3.41],[266.5,-3.68],[268.1,-3],[269.4,-1.65],[270.7,-4.08],[272,-1.92],[273.3,-0.43],[275.2,-1.11],[277.1,-0.3],[279.4,0.24],[282.6,0.92],[284.9,1.32],[287.5,1.86],[290.7,2.41],[292.3,2.41],[293.9,1.11],[300.4,0.92],[310,0.78],[322.9,0.65],[335.8,0.57],[348.7,0.51],[358.4,0.43],[365,0.35]];
const neeMillet06Obs = [[167.6,0.73],[168.9,2.27],[169.8,1.19],[171.4,1.81],[172.4,1.73],[173.7,0.3],[174.7,0.46],[175.6,0.78],[176.9,0.3],[177.9,0.92],[178.9,1.11],[180.2,-0.22],[181.1,0.65],[182.7,1.38],[184.3,1.11],[185.9,0.57],[186.9,0.73],[188.2,0.3],[189.2,1.73],[190.1,2.19],[191.4,2.41],[192.4,1.92],[193.4,1.38],[195,-1.59],[195.6,1.19],[196.6,1.05],[197.9,1.19],[198.8,0.92],[199.8,1.32],[201.1,1.19],[202.1,1],[203.7,0.57],[205.3,0.51],[206.3,0.03],[207.5,0.65],[208.5,0.84],[210.1,0.73],[211.1,-1.7],[212.7,-0.08],[214,-0.3],[215,-0.24],[216.6,-0.43],[218.2,-0.57],[219.1,-0.84],[219.8,-1.65],[220.4,-0.97],[221.4,-1.11],[223,-1.24],[223.7,-0.03],[224.6,-0.3],[225.6,-0.62],[226.9,-0.89],[227.8,-1.11],[228.8,-2.51],[230.1,-1.24],[231,-1.38],[232.7,-0.97],[233.6,-5.92],[234.9,-1.59],[235.9,-1.7],[236.8,0.24],[238.5,-1.51],[239.1,-2.24],[240.1,-0.89],[241.4,-1.05],[242.3,-1.78],[243.3,-1.51],[244.6,-1.7],[245.6,-2.51],[246.5,-2.73],[247.2,-3],[248.8,-1.59],[249.8,-1.51],[250.4,-3.54],[251.4,-6.46],[252.7,-3.54],[253.6,-3.81],[254.6,-2.59],[255.9,-5.43],[256.9,-3.95],[257.8,-1.7],[259.1,-4.08],[260.1,-5.03],[261,-3.41],[262.3,-3.14],[263.3,-4.08],[264.2,-5.57],[265.5,-6.11],[266.5,-4.08],[267.5,-4.22],[268.8,-3.54],[269.7,-5.84],[270.7,-5.7],[272,-5.43],[272.9,-2.59],[273.9,-6.03],[275.2,-3.68],[276.2,-3.81],[277.1,-5.43],[278.4,-4.84],[279.4,-4.14],[280.4,-3.68],[281.7,-3],[282.6,-3.27],[283.6,-2.41],[284.9,-3.86],[285.8,-3.54],[286.8,-2.73],[288.1,-2.59],[289.1,-2.51],[290,-2.73],[290.7,-1.19],[291.6,-2.05],[292.9,-2.19],[293.9,-1.97],[295.5,-1.51],[296.5,-1.78],[297.8,-1.86],[298.7,-2.05],[300.4,-2.19],[301.3,-2.41],[302.6,-2.51],[303.6,-1.65]];

const neeFallow06Model = [[1.6,0.97],[7.2,1],[13.5,0.92],[19.8,1.05],[26,0.92],[32.3,0.92],[38.6,0.78],[48,0.84],[57.4,0.73],[70,0.73],[82.5,0.65],[98.2,0.65],[113.9,0.59],[129.6,0.59],[145.3,0.57],[153.1,0.57],[154.7,0.73],[156.3,0.57],[164.1,0.46],[176.7,0.46],[189.2,0.51],[197,0.51],[198,0.24],[199.2,-0.84],[200.2,-3.54],[201.1,-3],[202.4,-5.16],[203.6,-4.35],[204.9,-4.08],[206.5,-4.62],[208,-3],[209.6,-3.81],[211.2,-1.65],[212.7,-5.7],[214.3,-3.54],[215.9,-6.51],[217.4,-4.08],[219,-6.78],[220.6,-4.62],[222.2,-6.24],[223.7,-5.16],[225.3,-6.78],[226.9,-3],[228.4,-7.32],[230,-5.7],[231.6,-7.59],[233.1,-5.43],[234.7,-7.32],[236.3,-4.08],[237.8,-7.59],[239.4,-5.7],[241,-7.46],[242.6,-5.16],[244.2,-7.59],[245.7,-5.43],[247.3,-7.32],[248.9,-6.24],[250.4,-4.35],[251.3,-7.32],[252.9,-5.7],[254.5,-7.32],[256,-6.24],[257.6,-6.78],[258.9,-6.51],[260.7,-6.51],[263,-5.7],[264.5,-5.43],[266.1,-4.89],[267.6,-4.08],[269.2,-3.81],[270.8,-3.27],[272.4,-2.73],[273.9,-2.73],[275.5,-1.92],[277.1,-0.84],[278.6,-0.03],[280.8,0.51],[282.7,0.92],[284.9,1.32],[288,1.59],[290.2,1.59],[292.7,1.73],[295.9,1.73],[299,1.59],[302.2,1.73],[305.3,1.54],[308.4,1.32],[313.1,1.19],[319.4,1.05],[324.1,0.92],[330.4,0.92],[336.7,1],[343,0.92],[347.7,1.19],[352.4,1.11],[358.7,1],[365,0.84]];
const neeFallow06Obs = [[154.1,1.95],[155.3,-0.16],[156.3,-0.51],[157.2,-0.03],[158.5,-0.22],[159.4,3.35],[161,3.43],[161.9,1.14],[163.2,0.51],[164.1,0.46],[165.7,1],[167.3,0.84],[168.5,3.35],[169.9,1.59],[171,0.73],[171.9,1.05],[173.5,1.19],[175.1,1.11],[176.7,0.84],[178.2,1.19],[179.2,0.73],[180.4,1.05],[181.4,0.78],[182.9,2.27],[184.5,1.05],[185.4,0.73],[186.7,0.3],[188.3,0.3],[189.2,3.08],[190.8,2.54],[192.3,1.51],[193.9,1.73],[194.8,1.05],[196.1,1.65],[197,1],[198.6,0.3],[200.2,-1.86],[201.1,-0.22],[202.4,-0.62],[203.3,-0.84],[204.9,-1.11],[206.5,-0.97],[207.4,-2.14],[209,-2.05],[210.5,-2.19],[211.8,-0.22],[212.7,-3.68],[214.3,-4.3],[215.9,-5.43],[217.4,-6.24],[219.9,-4.3],[221.2,-6.19],[222.2,-7.59],[223.7,-2.51],[224.3,-7.38],[225.9,-3.14],[226.9,-8.27],[227.8,-8.89],[229.1,-6.78],[230,-5.16],[231,-10.97],[232.2,-9.49],[233.1,-9.62],[234.1,-8.62],[235.6,-10.7],[236.9,-7.81],[238.2,-7.54],[239.4,-8.41],[240.7,-10.08],[241.9,-9.89],[243.2,-8.54],[244.1,-5.3],[245.1,-8.68],[246.3,-7.65],[247.6,-8.89],[248.8,-7.54],[250.4,-8],[251.3,-3.14],[252.6,-8.08],[253.8,-8.08],[255.1,-8.08],[256.4,-8.68],[257.6,-8],[258.9,-5.7],[259.8,-5.16],[260.7,-4.3],[262,-4.62],[262.9,-5.22],[263.9,-4.08],[265.1,-3.81],[266.1,-3.49],[267,-3.27],[268.3,-3.68],[269.2,-3.41],[270.8,-4.41],[272.4,-2.46],[273.3,-2.73],[274.6,-3.41],[275.5,-2.32],[276.4,-0.78],[277.7,-1.24],[278.6,-1.11],[279.6,-0.84],[280.8,-0.84],[281.8,-2.14],[283.3,-0.16],[284.3,-0.97],[284.9,-0.62],[285.8,-0.97],[287.4,-0.62],[288.4,1.19],[289.6,0.3],[290.6,-0.51],[291.5,0.73],[292.7,-0.7],[293.7,0.78],[294.6,0.65],[295.9,1.32],[296.8,0.3],[297.8,0.51],[299,0.73],[300,0.84],[301.2,0.73],[302.2,0.78],[303.7,1.19]];

// ---- layout of the panels (plot box in page pixels: left, top, right, bottom)
const axes = {
  gpp: { min: -21, max: 6, ticks: gppTicks, blank: [-15] },
  resp: { min: -5.4, max: 5.4, ticks: respTicks, blank: [] },
  nee: { min: -16, max: 11, ticks: neeTicks, blank: [-10] },
};

const panels = [
  { title: 'GPP, millet, 2005', box: [152, 69, 705, 398], y: 'gpp', model: gppMillet05Model, obs: gppMillet05Obs },
  { title: 'GPP, fallow, 2005', box: [842, 69, 1395, 398], y: 'gpp', model: gppFallow05Model, obs: gppFallow05Obs },
  { title: 'Total Respiration, millet, 2005', box: [1498, 74, 2048, 402], y: 'resp', model: respMillet05Model, obs: respMillet05Obs },
  { title: 'Total Respiration, fallow, 2005', box: [2182, 74, 2732, 402], y: 'resp', model: respFallow05Model, obs: respFallow05Obs },
  { title: 'GPP, millet, 2006', box: [152, 602, 705, 930], y: 'gpp', model: gppMillet06Model, obs: gppMillet06Obs },
  { title: 'GPP, fallow, 2006', box: [842, 602, 1395, 930], y: 'gpp', model: gppFallow06Model, obs: gppFallow06Obs },
  { title: 'Total Respiration, millet, 2006', box: [1498, 603, 2048, 930], y: 'resp', model: respMillet06Model, obs: respMillet06Obs },
  { title: 'Total Respiration, fallow, 2006', box: [2182, 603, 2732, 930], y: 'resp', model: respFallow06Model, obs: respFallow06Obs },
  { title: 'NEE, millet, 2005', box: [154, 1128, 714, 1461], y: 'nee', model: neeMillet05Model, obs: neeMillet05Obs },
  { title: 'NEE, fallow, 2005', box: [851, 1128, 1411, 1461], y: 'nee', model: neeFallow05Model, obs: neeFallow05Obs },
  { title: 'NEE, millet, 2006', box: [154, 1667, 714, 2000], y: 'nee', model: neeMillet06Model, obs: neeMillet06Obs },
  { title: 'NEE, fallow, 2006', box: [851, 1667, 1411, 2000], y: 'nee', model: neeFallow06Model, obs: neeFallow06Obs },
];

const FONT = '"Liberation Sans", Arial, Helvetica, sans-serif';
const FSIZE = 26;
const PAD_L = 130, PAD_T = 40, PAD_R = 10, PAD_B = 110;
const TICK = 11;

function fmt(v) {
  return v < 0 ? '\u2212' + Math.abs(v) : String(v);
}

const measureCtx = document.createElement('canvas').getContext('2d');
function widest(labels) {
  measureCtx.font = FSIZE + 'px ' + FONT;
  return Math.max(...labels.map((l) => measureCtx.measureText(l).width));
}

// grey h=0 line, drawn over the series like abline()
const zeroLine = {
  id: 'zeroLine',
  afterDatasetsDraw(chart) {
    const { ctx, chartArea: a, scales: { y } } = chart;
    const py = y.getPixelForValue(0);
    ctx.save();
    ctx.strokeStyle = '#bebebe';
    ctx.lineWidth = 3;
    ctx.beginPath();
    ctx.moveTo(a.left, py);
    ctx.lineTo(a.right, py);
    ctx.stroke();
    ctx.restore();
  },
};

// box() round the plot region
const frame = {
  id: 'frame',
  afterDraw(chart) {
    const { ctx, chartArea: a } = chart;
    ctx.save();
    ctx.strokeStyle = '#000';
    ctx.lineWidth = 2.5;
    ctx.strokeRect(a.left, a.top, a.right - a.left, a.bottom - a.top);
    ctx.restore();
  },
};

panels.forEach((p) => {
  const [l, t, r, b] = p.box;
  const w = r - l + PAD_L + PAD_R;
  const h = b - t + PAD_T + PAD_B;
  const cv = document.createElement('canvas');
  cv.width = w;
  cv.height = h;
  cv.style.left = (l - PAD_L) + 'px';
  cv.style.top = (t - PAD_T) + 'px';
  cv.style.width = w + 'px';
  cv.style.height = h + 'px';
  document.body.appendChild(cv);

  const ax = axes[p.y];
  const yLabel = (v) => (ax.blank.includes(v) ? '' : fmt(v));
  const yPad = Math.max(0, 34 - TICK - widest(ax.ticks.map(yLabel)) / 2);
  const font = { family: FONT, size: FSIZE };
  const grid = { drawOnChartArea: false, drawTicks: true, tickLength: TICK, tickWidth: 2, tickColor: '#000' };

  new Chart(cv, {
    type: 'scatter',
    data: {
      datasets: [
        {
          label: 'observed',
          data: p.obs.map(([x, y]) => ({ x, y })),
          pointRadius: 2.4,
          pointBorderWidth: 1.8,
          pointBorderColor: '#000',
          pointBackgroundColor: 'rgba(0,0,0,0)',
          order: 2,
        },
        {
          label: 'model',
          data: p.model.map(([x, y]) => ({ x, y })),
          showLine: true,
          borderColor: '#ff0000',
          borderWidth: 2.2,
          pointRadius: 0,
          order: 1,
        },
      ],
    },
    options: {
      responsive: false,
      animation: false,
      devicePixelRatio: 1,
      layout: { padding: { top: PAD_T, right: PAD_R, left: 0, bottom: 0 } },
      plugins: { legend: { display: false }, tooltip: { enabled: false } },
      scales: {
        x: {
          type: 'linear',
          min: -13.56,
          max: 379.56,
          afterBuildTicks: (s) => { s.ticks = dayTicks.map((v) => ({ value: v })); },
          afterFit: (s) => { s.height = PAD_B; },
          grid,
          border: { display: false },
          ticks: { autoSkip: false, maxRotation: 0, color: '#000', font, padding: 5, callback: (v) => fmt(v) },
          title: { display: true, text: p.title, color: '#000', font, padding: { top: 0, bottom: 19 } },
        },
        y: {
          type: 'linear',
          min: ax.min,
          max: ax.max,
          afterBuildTicks: (s) => { s.ticks = ax.ticks.map((v) => ({ value: v })); },
          afterFit: (s) => { s.width = PAD_L; },
          grid,
          border: { display: false },
          ticks: {
            autoSkip: false, minRotation: 90, maxRotation: 90, crossAlign: 'center',
            padding: yPad, color: '#000', font, callback: (v) => yLabel(v),
          },
          title: { display: true, text: yUnit, color: '#000', font, padding: { top: 37, bottom: 37 } },
        },
      },
    },
    plugins: [zeroLine, frame],
  });
});
</script>
</body>
</html>
